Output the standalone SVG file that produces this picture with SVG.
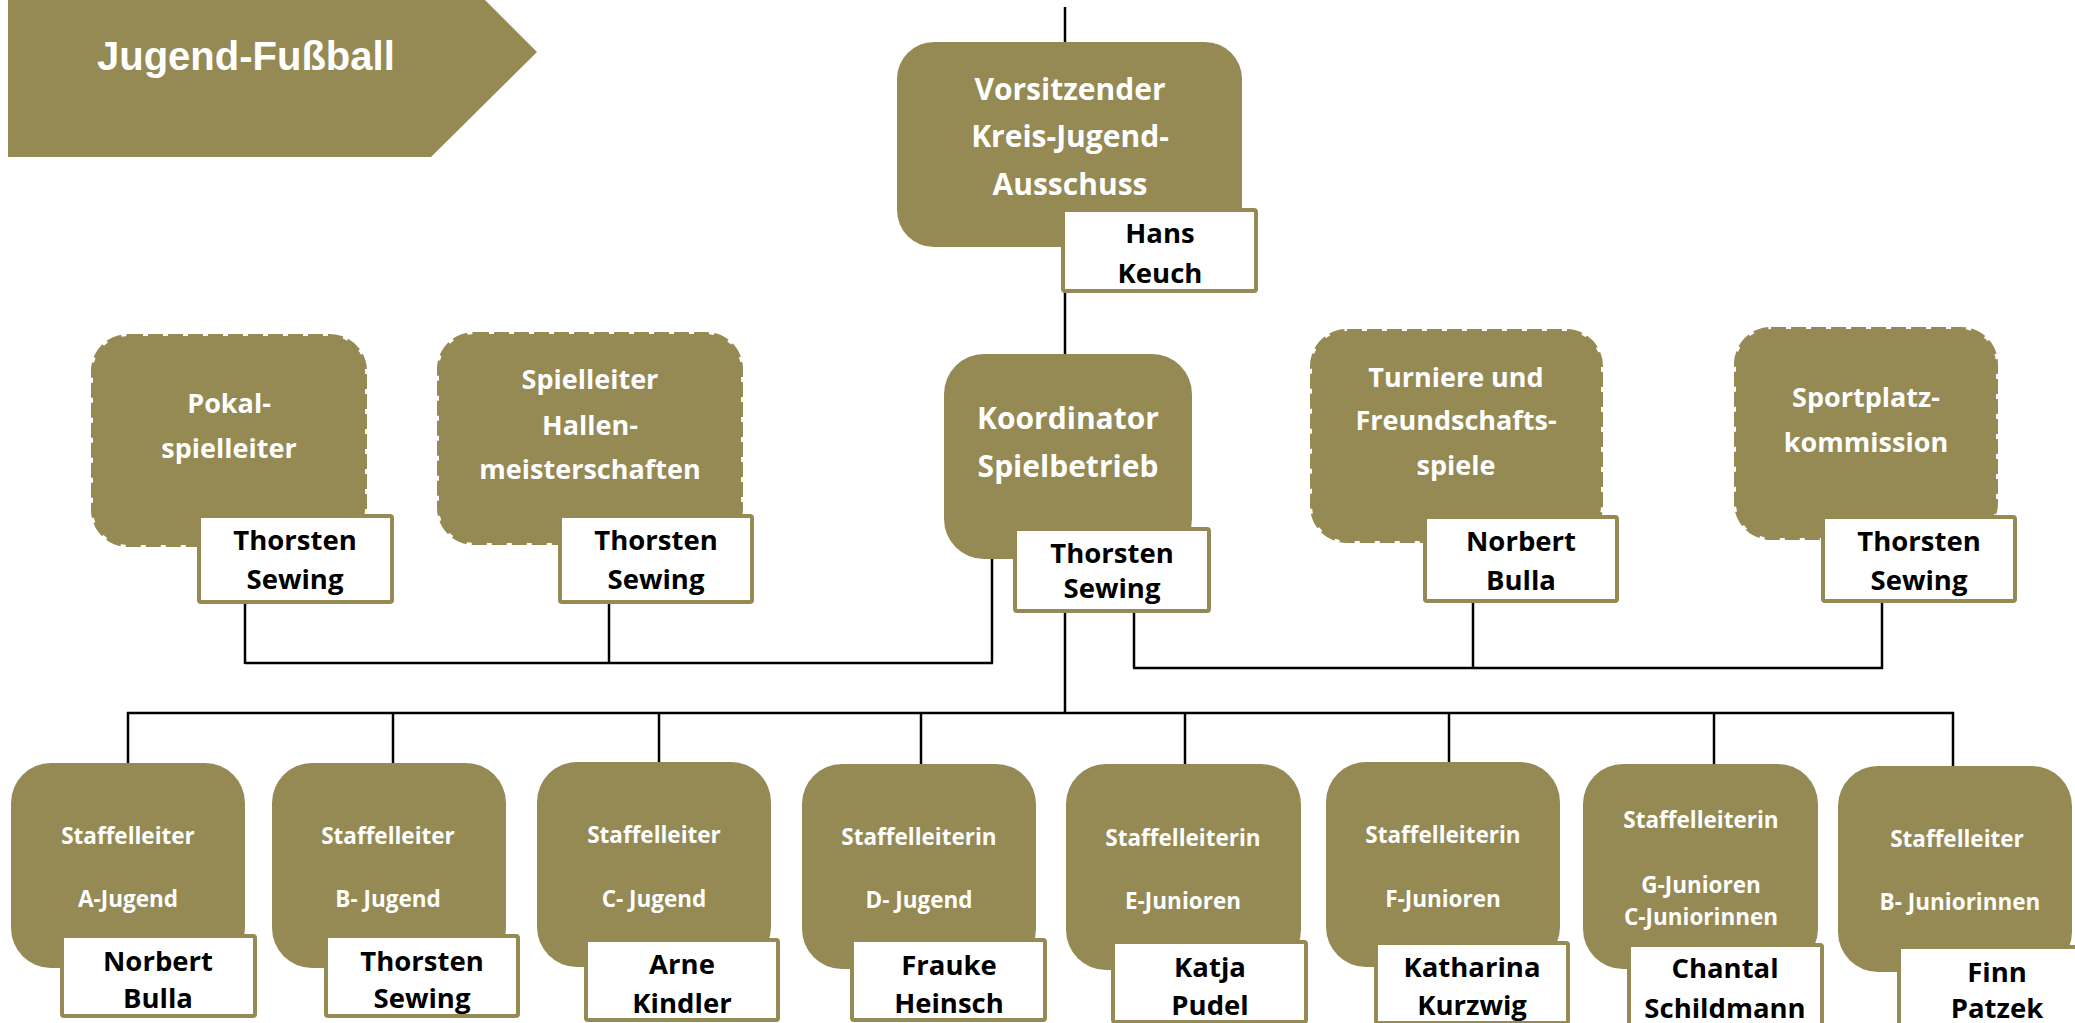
<svg xmlns="http://www.w3.org/2000/svg" width="2075" height="1023" viewBox="0 0 2075 1023">
<style>
  .box { fill: #958a54; }
  .dbox { fill: #958a54; stroke: #958a54; stroke-width: 4; stroke-dasharray: 15 5; }
  .name { fill: #ffffff; stroke: #958a54; stroke-width: 4; }
  .wt { fill: #ffffff; font-family: "Open Sans", "Noto Sans", sans-serif; font-weight: bold; text-anchor: middle; }
  .big { font-size: 30px; }
  .mid { font-size: 27px; }
  .sm { font-size: 22.5px; }
  .bt { fill: #000000; font-family: "Open Sans", "Noto Sans", sans-serif; font-weight: bold; font-size: 27.5px; text-anchor: middle; }
  .ln { stroke: #000000; stroke-width: 2.5; fill: none; }
</style>
<rect width="2075" height="1023" fill="#ffffff"/>

<g id="connectors">
  <line class="ln" x1="1065" y1="7" x2="1065" y2="713"/>
  <line class="ln" x1="992" y1="559" x2="992" y2="663"/>
  <line class="ln" x1="245" y1="663" x2="993" y2="663"/>
  <line class="ln" x1="245" y1="604" x2="245" y2="664"/>
  <line class="ln" x1="609" y1="604" x2="609" y2="663"/>
  <line class="ln" x1="1134" y1="613" x2="1134" y2="668"/>
  <line class="ln" x1="1133" y1="668" x2="1883" y2="668"/>
  <line class="ln" x1="1473" y1="603" x2="1473" y2="668"/>
  <line class="ln" x1="1882" y1="603" x2="1882" y2="669"/>
  <line class="ln" x1="127" y1="713" x2="1954" y2="713"/>
  <line class="ln" x1="128" y1="712" x2="128" y2="764"/>
  <line class="ln" x1="393" y1="713" x2="393" y2="764"/>
  <line class="ln" x1="659" y1="713" x2="659" y2="763"/>
  <line class="ln" x1="921" y1="713" x2="921" y2="765"/>
  <line class="ln" x1="1185" y1="713" x2="1185" y2="765"/>
  <line class="ln" x1="1449" y1="713" x2="1449" y2="763"/>
  <line class="ln" x1="1714" y1="713" x2="1714" y2="765"/>
  <line class="ln" x1="1953" y1="712" x2="1953" y2="767"/>
</g>

<g id="title">
  <polygon points="8,0 485,0 537,52 431,157 8,157" fill="#958a54"/>
  <text x="97" y="70" fill="#ffffff" font-family="Liberation Sans, Arial, sans-serif" font-weight="bold" font-size="40">Jugend-Fußball</text>
</g>

<g id="vorsitzender">
  <rect class="box" x="897" y="42" width="345" height="205" rx="37"/>
  <text class="wt big" x="1070" y="100">Vorsitzender</text>
  <text class="wt big" x="1070" y="147">Kreis-Jugend-</text>
  <text class="wt big" x="1070" y="195">Ausschuss</text>
  <rect class="name" x="1063" y="210" width="193" height="81" rx="2"/>
  <text class="bt" x="1160" y="243">Hans</text>
  <text class="bt" x="1160" y="283">Keuch</text>
</g>

<g id="koordinator">
  <rect class="box" x="944" y="354" width="248" height="205" rx="40"/>
  <text class="wt big" x="1068" y="429">Koordinator</text>
  <text class="wt big" x="1068" y="477">Spielbetrieb</text>
  <rect class="name" x="1015" y="529" width="194" height="82" rx="2"/>
  <text class="bt" x="1112" y="563">Thorsten</text>
  <text class="bt" x="1112" y="598">Sewing</text>
</g>

<g id="pokal">
  <rect class="dbox" x="93" y="336" width="272" height="209" rx="35"/>
  <text class="wt mid" x="229" y="413">Pokal-</text>
  <text class="wt mid" x="229" y="458">spielleiter</text>
  <rect class="name" x="199" y="516" width="193" height="86" rx="2"/>
  <text class="bt" x="295" y="550">Thorsten</text>
  <text class="bt" x="295" y="589">Sewing</text>
</g>

<g id="hallen">
  <rect class="dbox" x="439" y="334" width="302" height="209" rx="35"/>
  <text class="wt mid" x="590" y="389">Spielleiter</text>
  <text class="wt mid" x="590" y="435">Hallen-</text>
  <text class="wt mid" x="590" y="479">meisterschaften</text>
  <rect class="name" x="560" y="516" width="192" height="86" rx="2"/>
  <text class="bt" x="656" y="550">Thorsten</text>
  <text class="bt" x="656" y="589">Sewing</text>
</g>

<g id="turniere">
  <rect class="dbox" x="1312" y="331" width="289" height="210" rx="35"/>
  <text class="wt mid" x="1456" y="387">Turniere und</text>
  <text class="wt mid" x="1456" y="430">Freundschafts-</text>
  <text class="wt mid" x="1456" y="475">spiele</text>
  <rect class="name" x="1425" y="517" width="192" height="84" rx="2"/>
  <text class="bt" x="1521" y="551">Norbert</text>
  <text class="bt" x="1521" y="590">Bulla</text>
</g>

<g id="sportplatz">
  <rect class="dbox" x="1736" y="329" width="260" height="209" rx="35"/>
  <text class="wt mid" x="1866" y="407">Sportplatz-</text>
  <text class="wt mid" x="1866" y="452">kommission</text>
  <rect class="name" x="1823" y="517" width="192" height="84" rx="2"/>
  <text class="bt" x="1919" y="551">Thorsten</text>
  <text class="bt" x="1919" y="590">Sewing</text>
</g>

<g id="a-jugend">
  <rect class="box" x="11" y="763" width="234" height="205" rx="40"/>
  <text class="wt sm" x="128" y="844">Staffelleiter</text>
  <text class="wt sm" x="128" y="907">A-Jugend</text>
  <rect class="name" x="62" y="936" width="193" height="80" rx="2"/>
  <text class="bt" x="158" y="971">Norbert</text>
  <text class="bt" x="158" y="1008">Bulla</text>
</g>

<g id="b-jugend">
  <rect class="box" x="272" y="763" width="234" height="205" rx="40"/>
  <text class="wt sm" x="388" y="844">Staffelleiter</text>
  <text class="wt sm" x="388" y="907">B- Jugend</text>
  <rect class="name" x="326" y="936" width="192" height="80" rx="2"/>
  <text class="bt" x="422" y="971">Thorsten</text>
  <text class="bt" x="422" y="1008">Sewing</text>
</g>

<g id="c-jugend">
  <rect class="box" x="537" y="762" width="234" height="205" rx="40"/>
  <text class="wt sm" x="654" y="843">Staffelleiter</text>
  <text class="wt sm" x="654" y="907">C- Jugend</text>
  <rect class="name" x="586" y="940" width="192" height="80" rx="2"/>
  <text class="bt" x="682" y="974">Arne</text>
  <text class="bt" x="682" y="1013">Kindler</text>
</g>

<g id="d-jugend">
  <rect class="box" x="802" y="764" width="234" height="205" rx="40"/>
  <text class="wt sm" x="919" y="845">Staffelleiterin</text>
  <text class="wt sm" x="919" y="908">D- Jugend</text>
  <rect class="name" x="852" y="940" width="193" height="80" rx="2"/>
  <text class="bt" x="949" y="975">Frauke</text>
  <text class="bt" x="949" y="1013">Heinsch</text>
</g>

<g id="e-junioren">
  <rect class="box" x="1066" y="764" width="235" height="206" rx="40"/>
  <text class="wt sm" x="1183" y="846">Staffelleiterin</text>
  <text class="wt sm" x="1183" y="909">E-Junioren</text>
  <rect class="name" x="1113" y="942" width="193" height="80" rx="2"/>
  <text class="bt" x="1210" y="977">Katja</text>
  <text class="bt" x="1210" y="1015">Pudel</text>
</g>

<g id="f-junioren">
  <rect class="box" x="1326" y="762" width="234" height="205" rx="40"/>
  <text class="wt sm" x="1443" y="843">Staffelleiterin</text>
  <text class="wt sm" x="1443" y="907">F-Junioren</text>
  <rect class="name" x="1376" y="943" width="192" height="80" rx="2"/>
  <text class="bt" x="1472" y="977">Katharina</text>
  <text class="bt" x="1472" y="1015">Kurzwig</text>
</g>

<g id="g-junioren">
  <rect class="box" x="1583" y="764" width="235" height="205" rx="40"/>
  <text class="wt sm" x="1701" y="828">Staffelleiterin</text>
  <text class="wt sm" x="1701" y="893">G-Junioren</text>
  <text class="wt sm" x="1701" y="925">C-Juniorinnen</text>
  <rect class="name" x="1629" y="945" width="193" height="80" rx="2"/>
  <text class="bt" x="1725" y="978">Chantal</text>
  <text class="bt" x="1725" y="1018">Schildmann</text>
</g>

<g id="b-juniorinnen">
  <rect class="box" x="1838" y="766" width="234" height="206" rx="40"/>
  <text class="wt sm" x="1957" y="847">Staffelleiter</text>
  <text class="wt sm" x="1960" y="910">B- Juniorinnen</text>
  <rect class="name" x="1899" y="947" width="193" height="80" rx="2"/>
  <text class="bt" x="1997" y="982">Finn</text>
  <text class="bt" x="1997" y="1018">Patzek</text>
</g>
</svg>
